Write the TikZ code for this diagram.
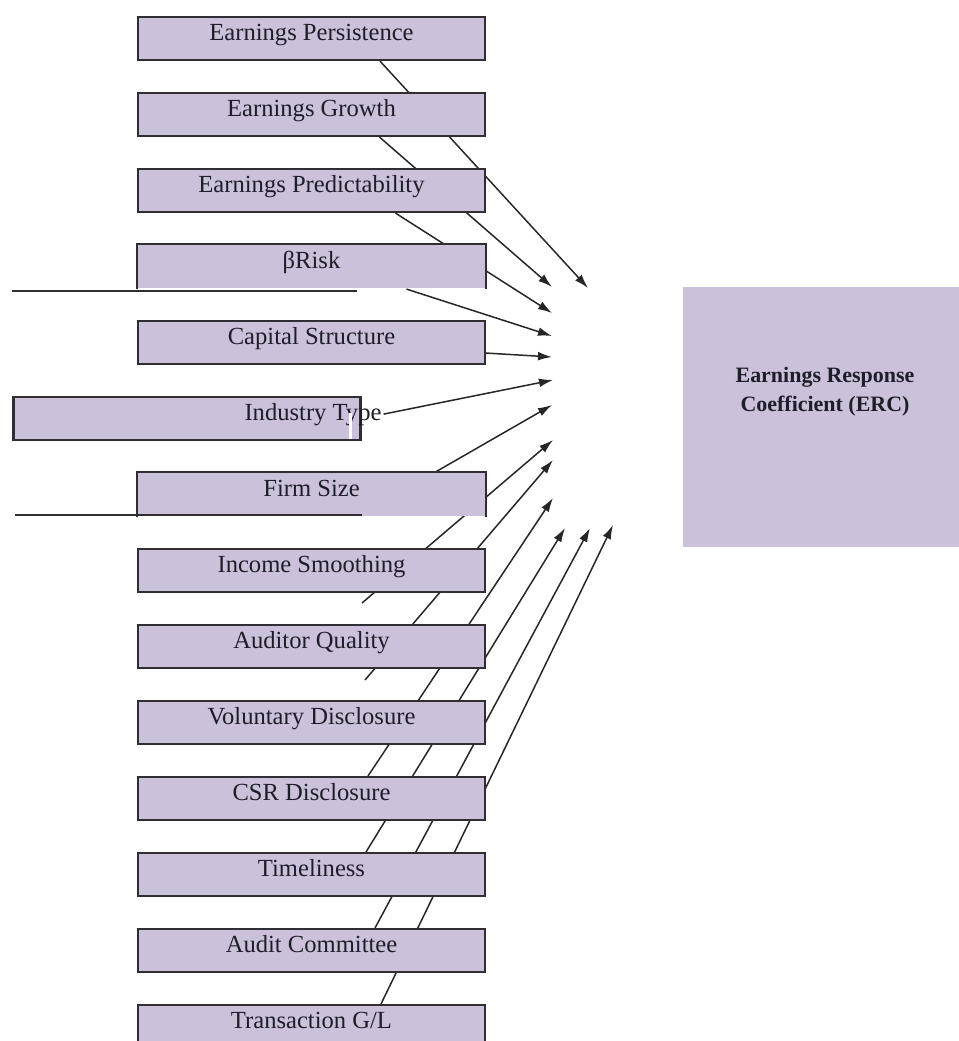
\documentclass[tikz,border=0pt]{standalone}
\usepackage{fontspec}
\setmainfont{Liberation Serif}
\usetikzlibrary{arrows.meta,calc,backgrounds}
\definecolor{boxfill}{HTML}{CCC1DA}
\definecolor{boxline}{HTML}{2E2E33}
\definecolor{ink}{HTML}{1E1E2A}

\begin{document}
\begin{tikzpicture}[x=0.02cm,y=-0.02cm,
  factor/.style={anchor=north,fill=boxfill,draw=boxline,line width=1.2pt,text=ink,
    minimum width=6.94cm,inner sep=0pt,text height=0.47cm,text depth=0.39cm,
    font=\fontsize{14}{16}\selectfont},
  openbox/.style={factor,draw=none},
  edge/.style={boxline,line width=1.2pt},
  link/.style={line width=0.85pt,draw=black!85,-{Latex[length=8pt,width=5pt]}}]
\useasboundingbox (0,0) rectangle (958,1041);

  \node[factor] (f1) at (311.5,16) {Earnings Persistence};
  \node[factor] (f2) at (311.5,92) {Earnings Growth};
  \node[factor] (f3) at (311.5,168) {Earnings Predictability};
  \node[openbox] (f4) at (311.5,244) {βRisk};
  \node[factor] (f5) at (311.5,320) {Capital Structure};
  \node[factor] (f6) at (187,396) {};
  \node[openbox] (f7) at (311.5,472) {Firm Size};
  \node[factor] (f8) at (311.5,548) {Income Smoothing};
  \node[factor] (f9) at (311.5,624) {Auditor Quality};
  \node[factor] (f10) at (311.5,700) {Voluntary Disclosure};
  \node[factor] (f11) at (311.5,776) {CSR Disclosure};
  \node[factor] (f12) at (311.5,852) {Timeliness};
  \node[factor] (f13) at (311.5,928) {Audit Committee};
  \node[factor] (f14) at (311.5,1004) {Transaction G/L};

 \draw[edge] (f4.south west) -- (f4.north west) -- (f4.north east) -- (f4.south east);
 \draw[edge] (f7.south west) -- (f7.north west) -- (f7.north east) -- (f7.south east);
 \draw[edge] (12,291) -- (357,291);
 \draw[edge] (15,515) -- (362,515);

  \node[font=\fontsize{14}{16}\selectfont,text=ink,inner sep=1pt,anchor=base] (f6l) at (313,420) {Industry Type};
 \fill[white] (349,413) rectangle (352,439);

  \node[fill=boxfill,minimum width=5.6cm,minimum height=5.2cm,anchor=north west,inner sep=0pt] (erc) at (683,287) {};
  \node[font=\bfseries\fontsize{12.5}{16.5}\selectfont,text=ink,align=center] (ercl) at (825,392) {Earnings Response\\Coefficient (ERC)};

 \coordinate (t1) at (588,288);
 \coordinate (t2) at (552,287);
 \coordinate (t3) at (552,313);
 \coordinate (t4) at (552,336);
 \coordinate (t5) at (552,357);
 \coordinate (t6) at (553,380);
 \coordinate (t7) at (552,405);
 \coordinate (t8) at (553,440);
 \coordinate (t9) at (553,460);
 \coordinate (t10) at (553,498);
 \coordinate (t11) at (565,528);
 \coordinate (t12) at (590,528);
 \coordinate (t13) at (613,525);
 \coordinate (s8) at (362,603);
 \coordinate (s9) at (365,680);

\begin{pgfonlayer}{background}
 \draw[link] ($(f1.south)+(68.5,0)$) -- (t1);
 \draw[link] ($(f2.south)+(68,0)$) -- (t2);
 \draw[link] ($(f3.south)+(84,0)$) -- (t3);
 \draw[link] ($(f4.south)+(95,0)$) -- (t4);
 \draw[link] ($(f5.east)+(0,10.5)$) -- (t5);
 \draw[link] (f6l.east) -- (t6);
 \draw[link] ($(f7.north)+(124,0)$) -- (t7);
 \draw[link] (s8) -- (t8);
 \draw[link] (s9) -- (t9);
 \draw[link] ($(f11.north)+(56.5,0)$) -- (t10);
 \draw[link] ($(f12.north)+(54.5,0)$) -- (t11);
 \draw[link] ($(f13.north)+(63.5,0)$) -- (t12);
 \draw[link] ($(f14.north)+(69.5,0)$) -- (t13);
\end{pgfonlayer}

\end{tikzpicture}
\end{document}
